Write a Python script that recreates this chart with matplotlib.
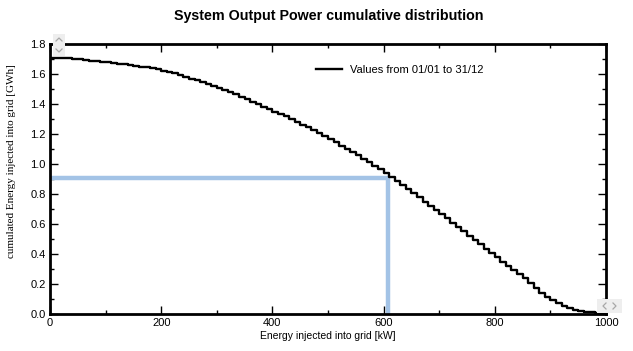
import numpy as np
import matplotlib
matplotlib.use("Agg")
import matplotlib.pyplot as plt
from matplotlib.ticker import MultipleLocator
from matplotlib.patches import Rectangle
from matplotlib.lines import Line2D

# Data, energy bins every 10 kW
power_kw = list(range(0, 1001, 10))
cum_energy_gwh = [
    1.710, 1.710, 1.708, 1.705, 1.702, 1.698, 1.694, 1.690, 1.686, 1.682,
    1.678, 1.674, 1.670, 1.666, 1.661, 1.656, 1.650, 1.644, 1.638, 1.631,
    1.623, 1.614, 1.604, 1.593, 1.581, 1.570, 1.559, 1.548, 1.536, 1.523,
    1.510, 1.496, 1.482, 1.466, 1.450, 1.433, 1.415, 1.398, 1.382, 1.366,
    1.350, 1.334, 1.317, 1.300, 1.282, 1.263, 1.244, 1.225, 1.205, 1.185,
    1.165, 1.144, 1.123, 1.102, 1.080, 1.058, 1.035, 1.012, 0.988, 0.964,
    0.938, 0.912, 0.885, 0.858, 0.831, 0.804, 0.777, 0.750, 0.722, 0.694,
    0.666, 0.638, 0.609, 0.580, 0.551, 0.522, 0.493, 0.464, 0.435, 0.406,
    0.378, 0.350, 0.322, 0.295, 0.270, 0.240, 0.205, 0.172, 0.142, 0.115,
    0.092, 0.072, 0.055, 0.040, 0.028, 0.018, 0.014, 0.011, 0.008, 0.006,
    0.005,
]
marker_power = 608
marker_energy = 0.91

title = "System Output Power cumulative distribution"
xlabel = "Energy injected into grid [kW]"
ylabel = "cumulated Energy injected into grid [GWh]"
legend_label = "Values from 01/01 to 31/12"

W, H = 633, 351
fig = plt.figure(figsize=(W/100, H/100), dpi=100)
ax = fig.add_axes([50/W, 37/H, 556/W, 270/H])

ax.plot([0, marker_power], [marker_energy, marker_energy], color="#a3c3e6", lw=3.2, solid_capstyle="butt", zorder=2)
ax.plot([marker_power, marker_power], [0, marker_energy], color="#a3c3e6", lw=3.2, solid_capstyle="butt", zorder=2)
ax.plot(power_kw, cum_energy_gwh, color="black", lw=1.7, drawstyle="steps-post", label=legend_label, zorder=3)

ax.set_xlim(0, 1000)
ax.set_ylim(0, 1.8)
ax.xaxis.set_major_locator(MultipleLocator(200))
ax.xaxis.set_minor_locator(MultipleLocator(100))
ax.yaxis.set_major_locator(MultipleLocator(0.2))
ax.yaxis.set_minor_locator(MultipleLocator(0.1))
ax.yaxis.set_major_formatter(matplotlib.ticker.FormatStrFormatter("%.1f"))
ax.tick_params(which="both", direction="in", top=True, right=True, width=1, colors="black",
               labelsize=8, pad=3)
ax.tick_params(which="major", length=6)
ax.tick_params(which="minor", length=3)
for lab in ax.get_xticklabels() + ax.get_yticklabels():
    lab.set_fontfamily("Liberation Sans")
for s in ax.spines.values():
    s.set_linewidth(2)

ax.set_xlabel(xlabel, fontsize=7.5, fontfamily="Liberation Sans", labelpad=2)
ax.set_ylabel(ylabel, fontsize=8, fontfamily="Liberation Serif", labelpad=6)
ax.yaxis.set_label_coords(-0.062, 0.567)
fig.text(329/W, 1 - 16/H, title, ha="center", va="center", fontsize=10.3,
         fontweight="bold", fontfamily="Liberation Sans")

leg = ax.legend(loc="upper left", bbox_to_anchor=(0.46, 0.96), frameon=False,
                prop={"family": "Liberation Sans", "size": 8}, handlelength=2.4, handletextpad=0.7)

# small scroll widgets seen in the reference UI
def box(x0, y0, w, h):
    fig.patches.append(Rectangle((x0/W, 1 - (y0 + h)/H), w/W, h/H, transform=fig.transFigure,
                                 facecolor="#eeeeee", edgecolor="none", zorder=5))

def chevron(pts):
    xs = [p[0]/W for p in pts]
    ys = [1 - p[1]/H for p in pts]
    fig.lines.append(Line2D(xs, ys, transform=fig.transFigure, color="#a8a8a8", lw=0.9, zorder=6))

box(53, 34, 12, 22)
chevron([(56, 41), (59, 38), (62, 41)])
chevron([(56, 49), (59, 52), (62, 49)])
box(597, 299, 25, 14)
chevron([(606, 303), (603, 306), (606, 309)])
chevron([(613, 303), (616, 306), (613, 309)])

fig.savefig("out.png", dpi=100)
